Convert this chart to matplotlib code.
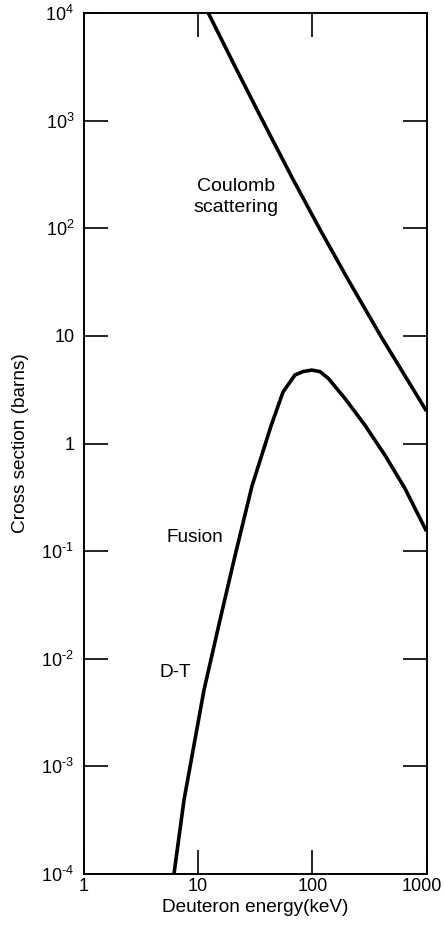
import matplotlib
matplotlib.use("Agg")
import matplotlib.pyplot as plt
import matplotlib.transforms as mtransforms

plt.rcParams['font.family'] = ['Liberation Sans', 'DejaVu Sans']
plt.rcParams['mathtext.fontset'] = 'custom'
plt.rcParams['mathtext.rm'] = 'Liberation Sans'
plt.rcParams['mathtext.it'] = 'Liberation Sans'
plt.rcParams['mathtext.bf'] = 'Liberation Sans'

# Coulomb scattering cross section (barns) vs deuteron energy (keV)
coulomb_E = [12.26, 21.8, 40.4, 68.2, 117.5, 206.7, 407, 1000]
coulomb_sigma = [1e4, 2953, 818, 280.6, 96.2, 33.0, 9.54, 2.0]

# D-T fusion cross section (barns) vs deuteron energy (keV)
fusion_E = [6.14, 7.51, 8.60, 11.24, 15.52, 21.4, 29.6, 43.4, 55.3, 70.4, 82.8,
            98.6, 116.5, 138, 193, 289, 432, 647, 1000]
fusion_sigma = [1e-4, 4.85e-4, 1.07e-3, 5.11e-3, 0.02285, 0.098, 0.402, 1.45, 3.0,
                4.33, 4.66, 4.81, 4.66, 4.03, 2.62, 1.48, 0.78, 0.383, 0.153]

yticks = [1e-4, 1e-3, 1e-2, 1e-1, 1, 10, 1e2, 1e3, 1e4]
yticklabels = [r'$10^{\text{-}4}$', r'$10^{\text{-}3}$', r'$10^{\text{-}2}$',
               r'$10^{\text{-}1}$', '1', '10',
               r'$10^{2}$', r'$10^{3}$', r'$10^{4}$']
xticks = [1, 10, 100, 1000]
xticklabels = ['1', '10', '100', '1000']

fig = plt.figure(figsize=(4.44, 9.33), dpi=100)
ax = fig.add_axes([84/444, 1 - 874/933, (426.5 - 84)/444, (874 - 13)/933])
ax.set_xscale('log')
ax.set_yscale('log')
ax.set_xlim(1, 1000)
ax.set_ylim(1e-4, 1e4)

ax.plot(coulomb_E, coulomb_sigma, color='black', lw=2.6,
        solid_capstyle='butt', solid_joinstyle='round')
ax.plot(fusion_E, fusion_sigma, color='black', lw=2.6,
        solid_capstyle='butt', solid_joinstyle='round')

ax.set_xticks(xticks)
ax.set_xticklabels(xticklabels)
ax.set_yticks(yticks)
ax.set_yticklabels(yticklabels)
ax.minorticks_off()
ax.tick_params(which='major', direction='in', length=17, width=1.2,
               top=True, right=True, labelsize=13)
ax.tick_params(axis='x', pad=3)
ax.tick_params(axis='y', pad=7)
for s in ax.spines.values():
    s.set_linewidth(1.4)

# nudge the last x tick label left so it stays inside the figure
lbl = ax.get_xticklabels()[-1]
lbl.set_transform(lbl.get_transform() +
                  mtransforms.ScaledTranslation(-5/100, 0, fig.dpi_scale_trans))

ax.set_xlabel('Deuteron energy(keV)', fontsize=13.7, labelpad=3)
ax.set_ylabel('Cross section (barns)', fontsize=13.7, labelpad=9)

ax.text(21.5, 195, 'Coulomb\nscattering', fontsize=14, ha='center', va='center',
        linespacing=1.25)
ax.text(9.3, 0.135, 'Fusion', fontsize=13.7, ha='center', va='center')
ax.text(6.35, 0.0075, 'D-T', fontsize=13.7, ha='center', va='center')

fig.savefig('out.png', dpi=100)
